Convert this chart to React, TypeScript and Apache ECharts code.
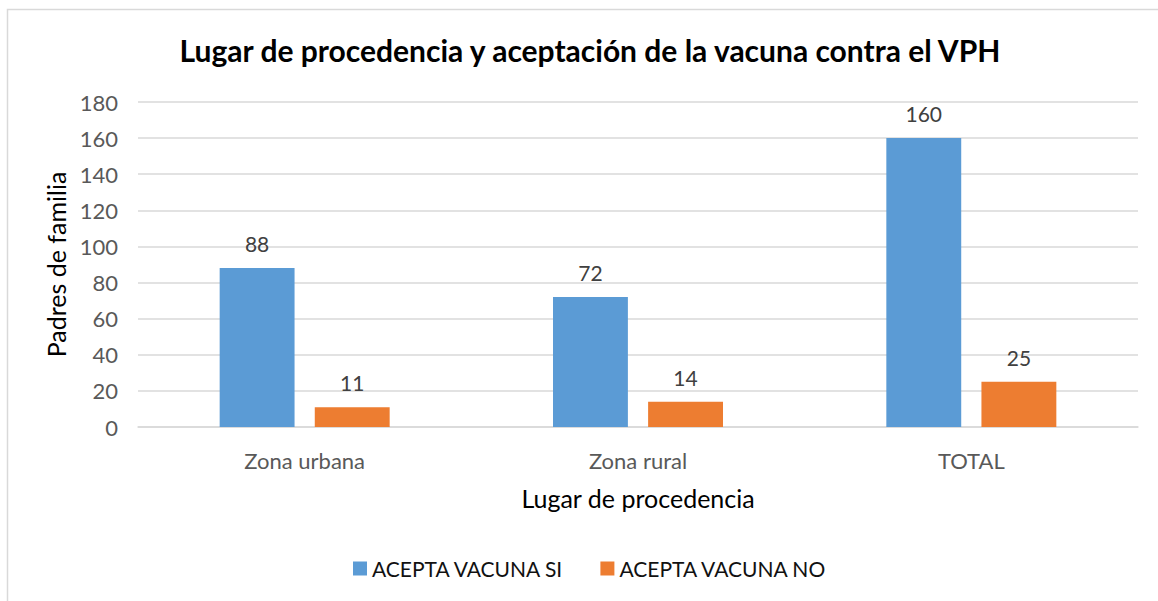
import React, { useEffect, useRef } from "react";
import * as echarts from "echarts";

const categories = ["Zona urbana", "Zona rural", "TOTAL"];
const seriesSi = [88, 72, 160];
const seriesNo = [11, 14, 25];
const seriesNames = ["ACEPTA VACUNA SI", "ACEPTA VACUNA NO"];

const FONT = "Lato, 'Open Sans', sans-serif";

export default function App() {
  const ref = useRef<HTMLDivElement>(null);
  useEffect(() => {
    document.body.style.margin = "0";
    const chart = echarts.init(ref.current!, undefined, { renderer: "svg" });
    chart.setOption({
      animation: false,
      backgroundColor: "#ffffff",
      textStyle: { fontFamily: FONT },
      title: {
        text: "Lugar de procedencia y aceptación de la vacuna contra el VPH",
        left: 585,
        textAlign: "center",
        top: 30,
        textStyle: { fontFamily: FONT, fontWeight: "bold", fontSize: 30, color: "#000000" },
      },
      graphic: [
        {
          type: "rect",
          shape: { x: 7.5, y: 9.5, width: 1200, height: 700 },
          style: { fill: "none", stroke: "#d9d9d9", lineWidth: 1.5 },
          silent: true,
          z: -1,
        },
      ],
      legend: {
        data: seriesNames,
        left: 348,
        top: 553,
        itemWidth: 14,
        itemHeight: 14,
        itemGap: 36,
        icon: "rect",
        textStyle: { fontFamily: FONT, fontSize: 21, color: "#111111" },
      },
      grid: { left: 138, right: 20, top: 102, bottom: 174, containLabel: false },
      xAxis: {
        type: "category",
        data: categories,
        name: "Lugar de procedencia",
        nameLocation: "middle",
        nameGap: 58,
        nameTextStyle: { fontFamily: FONT, fontSize: 25, color: "#000000" },
        axisLine: { show: true, lineStyle: { color: "#d9d9d9", width: 1.5 } },
        axisTick: { show: false },
        axisLabel: { fontFamily: FONT, fontSize: 22, color: "#595959", margin: 22 },
      },
      yAxis: {
        type: "value",
        min: 0,
        max: 180,
        interval: 20,
        name: "Padres de familia",
        nameLocation: "middle",
        nameGap: 68,
        nameTextStyle: { fontFamily: FONT, fontSize: 25, color: "#000000" },
        axisLine: { show: false },
        axisTick: { show: false },
        splitLine: { lineStyle: { color: "#d9d9d9", width: 1.5 } },
        axisLabel: { fontFamily: FONT, fontSize: 22, color: "#595959", margin: 20 },
      },
      series: [
        {
          name: seriesNames[0],
          type: "bar",
          data: seriesSi,
          itemStyle: { color: "#5b9bd5" },
          barGap: "27%",
          barCategoryGap: "49%",
          label: { show: true, position: "top", distance: 14, fontFamily: FONT, fontSize: 21, color: "#404040" },
        },
        {
          name: seriesNames[1],
          type: "bar",
          data: seriesNo,
          itemStyle: { color: "#ed7d31" },
          barGap: "27%",
          barCategoryGap: "49%",
          label: { show: true, position: "top", distance: 14, fontFamily: FONT, fontSize: 21, color: "#404040" },
        },
      ],
    });
    return () => chart.dispose();
  }, []);
  return <div ref={ref} style={{ width: 1158, height: 601 }} />;
}
